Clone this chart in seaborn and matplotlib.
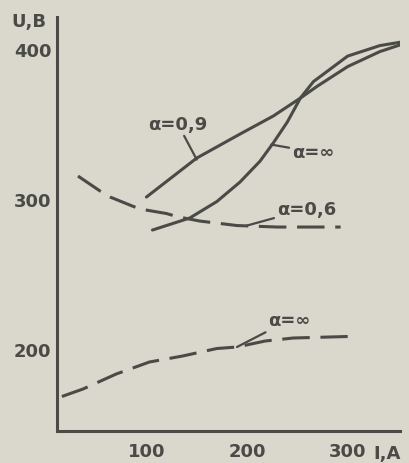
import pandas as pd
import matplotlib
matplotlib.use("Agg")
import matplotlib.pyplot as plt
import seaborn as sns

# curves: current I (A) vs voltage U (V)
i_a09 = [100, 150, 193, 226, 253, 270, 300, 332, 359]
u_a09 = [301, 327, 343, 355, 367, 375, 388, 398, 404]

i_ainf = [106, 143, 170, 193, 213, 226, 240, 253, 266, 300, 332, 359]
u_ainf = [279, 287, 298, 311, 325, 337, 351, 367, 378, 395, 402, 405]

i_a06 = [32, 54, 64, 86, 94, 120, 130, 153, 190, 230, 293]
u_a06 = [315, 305, 301, 295, 293, 290, 288, 285, 282, 281, 281]

i_ainf_d = [16, 37, 70, 103, 136, 170, 190, 218, 246, 300]
u_ainf_d = [168, 173, 183, 191, 195, 200, 201, 205, 207, 208]

x_ticks = [100, 200, 300]
y_ticks = [200, 300, 400]

paper = "#dad7cc"
ink = "#4a4a46"


def frame(name, i, u):
    return pd.DataFrame({"I": i, "U": u, "curve": name})


df = pd.concat([
    frame("a09", i_a09, u_a09),
    frame("ainf", i_ainf, u_ainf),
    frame("a06", i_a06, u_a06),
    frame("ainf_d", i_ainf_d, u_ainf_d),
], ignore_index=True)

sns.set_style("white")
plt.rcParams["font.family"] = ["DejaVu Sans"]
plt.rcParams["font.weight"] = "bold"

fig = plt.figure(figsize=(4.09, 4.64), dpi=100, facecolor=paper)
ax = fig.add_axes([0.139, 0.069, 0.839, 0.892])
ax.set_facecolor(paper)

dash = (9, 3.5)
sns.lineplot(data=df, x="I", y="U", units="curve", style="curve",
             estimator=None, sort=False, color=ink, linewidth=2.2,
             dashes={"a09": "", "ainf": "", "a06": dash, "ainf_d": dash},
             legend=False, ax=ax)

ax.set_xlim(11, 352)
ax.set_ylim(145, 421)
ax.set_xticks(x_ticks)
ax.set_yticks(y_ticks)
ax.set_xticklabels([str(t) for t in x_ticks])
ax.set_yticklabels([str(t) for t in y_ticks])
ax.set_xlabel("")
ax.set_ylabel("")

for side in ["top", "right"]:
    ax.spines[side].set_visible(False)
for side in ["left", "bottom"]:
    ax.spines[side].set_color(ink)
    ax.spines[side].set_linewidth(2.2)

ax.tick_params(axis="both", direction="in", length=7, width=2, color=ink,
               labelcolor=ink, labelsize=13)
ax.tick_params(axis="x", pad=8)
ax.tick_params(axis="y", pad=4)

# curve labels with leader lines
lbl = dict(color=ink, fontsize=13, fontweight="bold", va="center")
line = dict(arrowstyle="-", color=ink, lw=1.6, shrinkA=0, shrinkB=0)
ax.annotate("α=0,9", xy=(150, 326), xytext=(131, 350), ha="center",
            arrowprops=line, **lbl)
ax.annotate("α=∞", xy=(224, 336), xytext=(245, 331), ha="left",
            arrowprops=line, **lbl)
ax.annotate("α=0,6", xy=(200, 282), xytext=(230, 293), ha="left",
            arrowprops=line, **lbl)
ax.annotate("α=∞", xy=(190, 201), xytext=(221, 219), ha="left",
            arrowprops=line, **lbl)

fig.text(0.029, 0.953, "U,В", color=ink, fontsize=13, fontweight="bold",
         ha="left", va="center")
fig.text(0.912, 0.022, "I,A", color=ink, fontsize=13, fontweight="bold",
         ha="left", va="center")

fig.savefig("out.png", dpi=100, facecolor=paper)
